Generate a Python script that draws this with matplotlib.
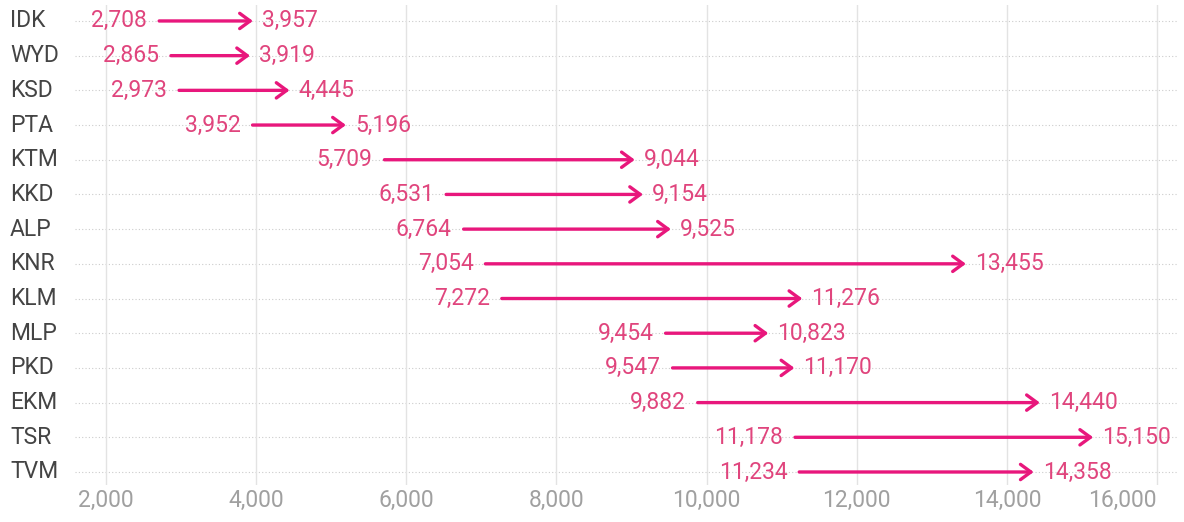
import matplotlib
matplotlib.use("Agg")
import matplotlib.pyplot as plt
from matplotlib.ticker import FuncFormatter

plt.rcParams['font.family'] = ['Roboto', 'DejaVu Sans']

categories = ["IDK", "WYD", "KSD", "PTA", "KTM", "KKD", "ALP", "KNR", "KLM", "MLP", "PKD", "EKM", "TSR", "TVM"]
start_vals = [2708, 2865, 2973, 3952, 5709, 6531, 6764, 7054, 7272, 9454, 9547, 9882, 11178, 11234]
end_vals = [3957, 3919, 4445, 5196, 9044, 9154, 9525, 13455, 11276, 10823, 11170, 14440, 15150, 14358]
xticks = [2000, 4000, 6000, 8000, 10000, 12000, 14000, 16000]

arrow_color = '#e8177c'
label_color = '#e0457d'
fs = 16.5

fig = plt.figure(figsize=(11.84, 5.22), dpi=100)
ax = fig.add_axes([75/1184, 1-485/522, 1103/1184, 480/522])

n = len(categories)
for i, (s, e) in enumerate(zip(start_vals, end_vals)):
    ax.axhline(i, color='#cccccc', lw=0.8, ls=(0, (1, 2)), zorder=1)
    ax.annotate('', xy=(e, i), xytext=(s, i),
                arrowprops=dict(arrowstyle='->,head_length=0.75,head_width=0.55',
                                color=arrow_color, lw=2.4, shrinkA=0, shrinkB=0,
                                mutation_scale=10),
                zorder=3)
    ax.annotate(f"{s:,}", xy=(s, i), xytext=(-8.5, 0), textcoords='offset points',
                ha='right', va='center', color=label_color, fontsize=fs)
    ax.annotate(f"{e:,}", xy=(e, i), xytext=(6.5, 0), textcoords='offset points',
                ha='left', va='center', color=label_color, fontsize=fs)
    ax.text((10-75)/1103, i, categories[i], transform=ax.get_yaxis_transform(),
            ha='left', va='center', color='#444444', fontsize=fs)

ax.set_xlim(1587, 16280)
ax.set_ylim(n - 1 + 0.375, -0.46)
ax.set_xticks(xticks)
ax.xaxis.set_major_formatter(FuncFormatter(lambda v, p: f"{int(v):,}"))
ax.set_yticks([])
ax.grid(axis='x', color='#e3e3e3', lw=1, zorder=0)
ax.tick_params(axis='x', length=0, colors='#a0a0a0', labelsize=fs, pad=3)
ax.get_xticklabels()[-1].set_horizontalalignment('right')
for sp in ax.spines.values():
    sp.set_visible(False)

fig.savefig('out.png', dpi=100)
